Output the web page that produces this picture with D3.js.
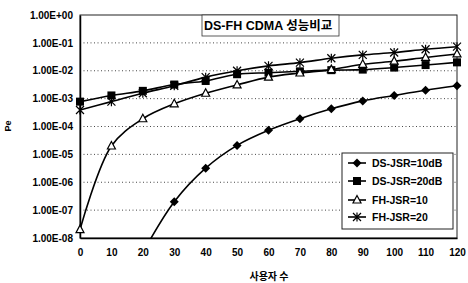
<!DOCTYPE html>
<html><head><meta charset="utf-8">
<script src="https://cdn.jsdelivr.net/npm/d3@7"></script>
<style>
html,body{margin:0;padding:0;background:#fff;}
svg{display:block;}
text{font-family:"Liberation Sans",Arial,sans-serif;fill:#000;}
.kr{font-family:"Noto Sans CJK KR","Noto Sans",sans-serif;}
</style></head>
<body>
<svg id="c" width="468" height="283"></svg>
<script>
// ---- data ----
const users = [0,10,20,30,40,50,60,70,80,90,100,110,120];
const dsJsr10 = [null,null,3e-9,2.0e-7,3.2e-6,2.1e-5,7.3e-5,1.9e-4,4.3e-4,8.3e-4,1.3e-3,2.0e-3,2.9e-3];
const dsJsr20 = [7.8e-4,1.3e-3,1.9e-3,3.2e-3,4.3e-3,7.5e-3,8.5e-3,9.5e-3,1.05e-2,1.1e-2,1.3e-2,1.6e-2,2.0e-2];
const fhJsr10 = [2e-8,2e-5,1.9e-4,6.5e-4,1.56e-3,3.1e-3,5.9e-3,8.3e-3,1.1e-2,1.7e-2,2.2e-2,3.0e-2,4.0e-2];
const fhJsr20 = [3.9e-4,7.8e-4,1.56e-3,2.9e-3,5.9e-3,1.0e-2,1.5e-2,1.95e-2,2.8e-2,3.7e-2,4.5e-2,5.9e-2,7.3e-2];
const seriesNames = ["DS-JSR=10dB","DS-JSR=20dB","FH-JSR=10","FH-JSR=20"];
const markerTypes = ["diamond","square","triangle","star"];
const yTickValues = [1,1e-1,1e-2,1e-3,1e-4,1e-5,1e-6,1e-7,1e-8];
const yTickLabels = ["1.00E+00","1.00E-01","1.00E-02","1.00E-03","1.00E-04","1.00E-05","1.00E-06","1.00E-07","1.00E-08"];
const xTickValues = [0,10,20,30,40,50,60,70,80,90,100,110,120];
const titleLatin = "DS-FH CDMA ";
const titleKorean = "성능비교";
const xTitle = "사용자 수";
const yTitle = "Pe";

const allSeries = [dsJsr10, dsJsr20, fhJsr10, fhJsr20];

const svg = d3.select("#c");
const L = 80, R = 457, T = 15, B = 238;
const x = d3.scaleLinear().domain([0,120]).range([L,R]);
const y = d3.scaleLog().domain([1e-8,1]).range([B,T]);

// gridlines
svg.append("g").selectAll("line").data(yTickValues.filter(v=>v<1 && v>1e-8)).join("line")
  .attr("x1",L).attr("x2",R).attr("y1",d=>y(d)).attr("y2",d=>y(d))
  .attr("stroke","#333").attr("stroke-width",0.9).attr("stroke-dasharray","1,2.5");

// frame
svg.append("rect").attr("x",L).attr("y",T).attr("width",R-L).attr("height",B-T)
  .attr("fill","none").attr("stroke","#222").attr("stroke-width",1);

// axes
const yAxis = d3.axisLeft(y).tickValues(yTickValues).tickFormat((d,i)=>yTickLabels[i]).tickSize(0).tickPadding(7);
const gy = svg.append("g").attr("transform",`translate(${L},0)`).call(yAxis);
gy.select(".domain").attr("stroke","#000").attr("stroke-width",1.5);
gy.selectAll("text").attr("font-size",10).attr("font-weight","bold")
  .style("font-family","'Liberation Sans',Arial,sans-serif");

const xAxis = d3.axisBottom(x).tickValues(xTickValues).tickSize(0).tickPadding(11);
const gx = svg.append("g").attr("transform",`translate(0,${B})`).call(xAxis);
gx.select(".domain").attr("stroke","#000").attr("stroke-width",1.5);
gx.selectAll("text").attr("font-size",10).attr("font-weight","bold")
  .style("font-family","'Liberation Sans',Arial,sans-serif");

// clip
svg.append("clipPath").attr("id","clip").append("rect")
  .attr("x",L-5).attr("y",T-5).attr("width",R-L+10).attr("height",B-T+5);

const line = d3.line()
  .defined(d=>d[1]!=null)
  .x(d=>x(d[0])).y(d=>y(d[1]))
  .curve(d3.curveCatmullRom.alpha(0.5));

function drawMarker(g, type, cx, cy){
  if(type==="diamond"){
    g.append("path").attr("d",`M${cx},${cy-4.5}L${cx+4.5},${cy}L${cx},${cy+4.5}L${cx-4.5},${cy}Z`).attr("fill","#000");
  } else if(type==="square"){
    g.append("rect").attr("x",cx-4).attr("y",cy-4).attr("width",8).attr("height",8).attr("fill","#000");
  } else if(type==="triangle"){
    g.append("path").attr("d",`M${cx},${cy-4.5}L${cx+4},${cy+3}L${cx-4},${cy+3}Z`)
      .attr("fill","#fff").attr("stroke","#000").attr("stroke-width",1.2);
  } else {
    g.append("path").attr("d",`M${cx-4},${cy-4}L${cx+4},${cy+4}M${cx+4},${cy-4}L${cx-4},${cy+4}M${cx},${cy-4.5}L${cx},${cy+4.5}`)
      .attr("stroke","#000").attr("stroke-width",1.2).attr("fill","none");
  }
}

const lineClip = svg.append("g").attr("clip-path","url(#clip)");
const plotLines = lineClip.append("g");
allSeries.forEach((vals,si)=>{
  const pts = users.map((u,i)=>[u,vals[i]]);
  plotLines.append("path").attr("d",line(pts)).attr("fill","none").attr("stroke","#000").attr("stroke-width",1.6)
    .attr("clip-path", null);
});
// clip lines strictly to plot (bottom axis)
svg.append("clipPath").attr("id","clipStrict").append("rect")
  .attr("x",L).attr("y",T-5).attr("width",R-L+5).attr("height",B-T+5);
plotLines.attr("clip-path","url(#clipStrict)");

allSeries.forEach((vals,si)=>{
  const g = lineClip.append("g");
  users.forEach((u,i)=>{
    const v = vals[i];
    if(v==null || v<1e-8) return;
    drawMarker(g, markerTypes[si], x(u), y(v));
  });
});

// title
const tb = svg.append("g");
tb.append("rect").attr("x",202).attr("y",15).attr("width",137).attr("height",21)
  .attr("fill","#fff").attr("stroke","#333").attr("stroke-width",0.8);
const tt = tb.append("text").attr("x",204).attr("y",30).attr("font-size",12.5);
tt.append("tspan").attr("font-weight","bold").text(titleLatin);
tt.append("tspan").attr("class","kr").attr("font-weight","bold").text(titleKorean);

// axis titles
svg.append("text").attr("class","kr").attr("x",269).attr("y",280).attr("text-anchor","middle")
  .attr("font-size",10).attr("font-weight","bold").text(xTitle);
svg.append("text").attr("transform","translate(11,126) rotate(-90)").attr("text-anchor","middle")
  .attr("font-size",9).attr("font-weight","bold").text(yTitle);

// legend
const lg = svg.append("g");
lg.append("rect").attr("x",342).attr("y",153).attr("width",111).attr("height",76)
  .attr("fill","#fff").attr("stroke","#222").attr("stroke-width",1);
const legY = [163,181,200,217];
seriesNames.forEach((n,i)=>{
  const yy = legY[i];
  lg.append("line").attr("x1",348).attr("x2",366).attr("y1",yy).attr("y2",yy)
    .attr("stroke","#000").attr("stroke-width",1.6);
  drawMarker(lg, markerTypes[i], 357, yy);
  lg.append("text").attr("x",372).attr("y",yy+3.5).attr("font-size",10.5).attr("font-weight","bold").text(n);
});
</script>
</body></html>
